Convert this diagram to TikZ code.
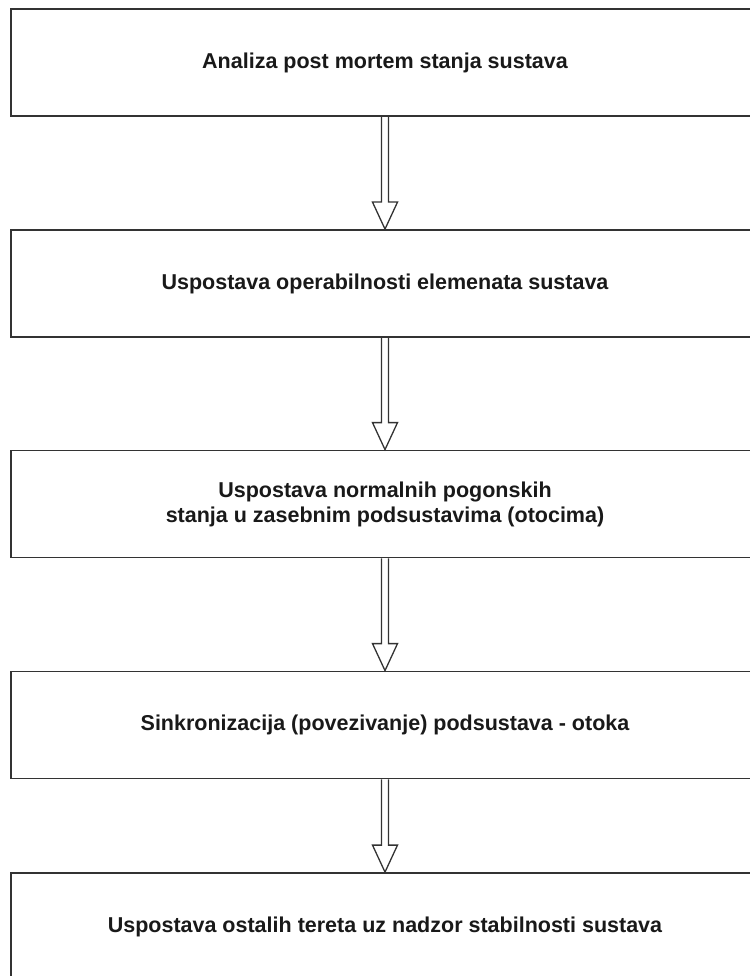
\documentclass[tikz,border=0pt]{standalone}
\usepackage{fontspec}
\setmainfont{Liberation Sans}
\usepackage{tikz}

\begin{document}
\begin{tikzpicture}
    [
    x=1pt, y=-1pt,
    stepbox/.style={rectangle,draw=black!80,line width=1.8pt,minimum width=748pt,minimum height=107pt,
      inner sep=0pt,align=center,text=black!90,font=\bfseries\fontsize{21.5}{25}\selectfont},
    shaft/.style={draw=black!80,line width=1.3pt,line join=miter},
    ]
    \useasboundingbox (0,0) rectangle (749,976);

    \node (b1) at (385,62.5) [stepbox] {Analiza post mortem stanja sustava};
    \node (b2) at (385,283.5) [stepbox] {Uspostava operabilnosti elemenata sustava};
    \node (b3) at (385,504) [stepbox] {Uspostava normalnih pogonskih\\stanja u zasebnim podsustavima (otocima)};
    \node (b4) at (385,725) [stepbox] {Sinkronizacija (povezivanje) podsustava - otoka};
    \node (b5) at (385,926.5) [stepbox] {Uspostava ostalih tereta uz nadzor stabilnosti sustava};

    \foreach \a/\b in {b1/b2,b2/b3,b3/b4,b4/b5}
      \draw [shaft] ([xshift=-3.5pt]\a.south) -- ([xshift=-3.5pt,yshift=27pt]\b.north)
        -- ([xshift=-12.5pt,yshift=27pt]\b.north) -- (\b.north)
        -- ([xshift=12.5pt,yshift=27pt]\b.north) -- ([xshift=3.5pt,yshift=27pt]\b.north)
        -- ([xshift=3.5pt]\a.south);
\end{tikzpicture}
\end{document}
